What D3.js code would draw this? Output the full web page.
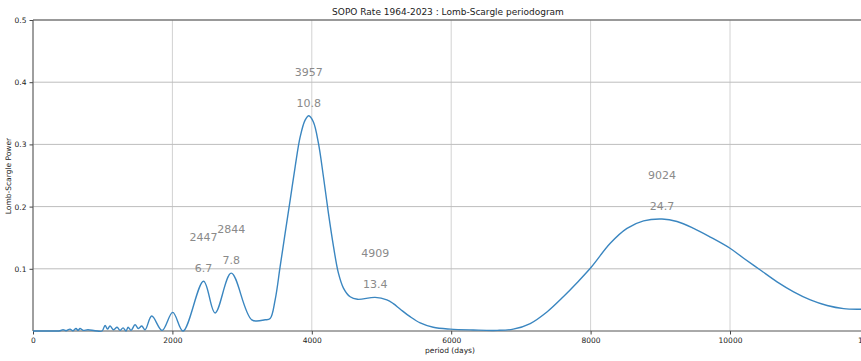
<!DOCTYPE html>
<html>
<head>
<meta charset="utf-8">
<script src="https://cdn.jsdelivr.net/npm/d3@7"></script>
<style>
  html, body { margin: 0; padding: 0; background: #fff; overflow: hidden; }
  svg { display: block; font-family: "DejaVu Sans", sans-serif; }
</style>
</head>
<body>
<svg id="chart" width="861" height="361"></svg>
<script>
// Lomb-Scargle periodogram of the SOPO rate, power against trial period (days)
const periodDays = [
  0, 172, 388, 431, 474, 531, 574, 617, 646, 675, 718, 789, 890, 990,
  1034, 1069, 1105, 1156, 1206, 1249, 1292, 1335, 1364, 1407, 1464, 1512,
  1560, 1608, 1704, 1852, 2005, 2153, 2447, 2612, 2844, 3139, 3330, 3402,
  3474, 3545, 3617, 3689, 3761, 3833, 3904, 3957, 4023, 4095, 4167, 4239,
  4311, 4382, 4454, 4550, 4655, 4909, 5077, 5170, 5270, 5410, 5555, 5742,
  5986, 6316, 6660, 6890, 7134, 7378, 7608, 7809, 8005, 8282, 8522, 8760,
  9024, 9240, 9478, 9718, 10000, 10196, 10435, 10675, 10913, 11153, 11393,
  11631, 11871, 12000
];
const power = [
  0.000, 0.000, 0.0005, 0.002, 0.0005, 0.003, 0.0005, 0.004, 0.001, 0.004, 0.001, 0.002, 0.0005, 0.000,
  0.009, 0.003, 0.008, 0.002, 0.006, 0.001, 0.005, 0.000, 0.006, 0.001, 0.010, 0.004,
  0.008, 0.002, 0.024, 0.001, 0.030, 0.000, 0.080, 0.029, 0.093, 0.018, 0.018, 0.020,
  0.050, 0.103, 0.157, 0.210, 0.264, 0.312, 0.339, 0.346, 0.336, 0.302, 0.248, 0.189,
  0.136, 0.093, 0.069, 0.055, 0.051, 0.054, 0.050, 0.044, 0.035, 0.023, 0.013, 0.006,
  0.003, 0.0016, 0.001, 0.003, 0.012, 0.031, 0.055, 0.078, 0.102, 0.141, 0.165, 0.177,
  0.180, 0.176, 0.165, 0.151, 0.133, 0.117, 0.098, 0.079, 0.063, 0.050, 0.041,
  0.036, 0.035, 0.035
];

// Annotated peaks: period in days and the same period in years
const peakPeriods = [2447, 2844, 3957, 4909, 9024];
const peakYears = ["6.7", "7.8", "10.8", "13.4", "24.7"];

const xTicks = [0, 2000, 4000, 6000, 8000, 10000, 12000];
const yTicks = [0.1, 0.2, 0.3, 0.4, 0.5];

const titleText = "SOPO Rate 1964-2023 : Lomb-Scargle periodogram";
const xLabel = "period (days)";
const yLabel = "Lomb-Scargle Power";

const svg = d3.select("#chart");
const plotLeft = 33, plotTop = 20, plotBottom = 331, plotRight = 869.4;

const x = d3.scaleLinear().domain([0, 12000]).range([plotLeft, plotRight]);
const y = d3.scaleLinear().domain([0, 0.5]).range([plotBottom, plotTop]);

// grid
svg.append("g").selectAll("line").data(xTicks).join("line")
  .attr("x1", d => x(d)).attr("x2", d => x(d))
  .attr("y1", plotTop).attr("y2", plotBottom)
  .attr("stroke", "#d2d2d2").attr("stroke-width", 1);
svg.append("g").selectAll("line").data(yTicks).join("line")
  .attr("x1", plotLeft).attr("x2", plotRight)
  .attr("y1", d => y(d)).attr("y2", d => y(d))
  .attr("stroke", "#bdbdbd").attr("stroke-width", 1);

// axes
const xAxis = d3.axisBottom(x).tickValues(xTicks).tickFormat(d3.format("d"))
  .tickSize(3.5).tickPadding(3);
const yAxis = d3.axisLeft(y).tickValues(yTicks).tickFormat(d3.format(".1f"))
  .tickSize(3.5).tickPadding(3);

const gx = svg.append("g").attr("transform", `translate(0,${plotBottom})`).call(xAxis);
const gy = svg.append("g").attr("transform", `translate(${plotLeft},0)`).call(yAxis);
[gx, gy].forEach(g => {
  g.select(".domain").remove();
  g.selectAll(".tick line").attr("stroke", "#444");
  g.selectAll(".tick text").attr("fill", "#222").style("font-size", "7.5px")
    .style("font-family", "DejaVu Sans, sans-serif");
});

// spines
svg.append("line").attr("x1", plotLeft).attr("x2", plotRight).attr("y1", plotBottom).attr("y2", plotBottom)
  .attr("stroke", "#555").attr("stroke-width", 1);
svg.append("line").attr("x1", plotLeft).attr("x2", plotRight).attr("y1", plotTop).attr("y2", plotTop)
  .attr("stroke", "#555").attr("stroke-width", 1);
svg.append("line").attr("x1", plotLeft).attr("x2", plotLeft).attr("y1", plotTop).attr("y2", plotBottom)
  .attr("stroke", "#555").attr("stroke-width", 1);

// periodogram curve
const pts = periodDays.map((p, i) => [p, power[i]]);
const line = d3.line().x(d => x(d[0])).y(d => y(d[1])).curve(d3.curveCatmullRom.alpha(0.5));
svg.append("path").datum(pts)
  .attr("d", line)
  .attr("fill", "none")
  .attr("stroke", "#3a86c0")
  .attr("stroke-width", 1.4)
  .attr("stroke-linejoin", "round");

// peak annotations
const peakPower = peakPeriods.map(p => power[periodDays.indexOf(p)]);
const ann = svg.append("g").attr("fill", "#8a8a8a")
  .style("font-size", "11px").attr("text-anchor", "middle");
peakPeriods.forEach((p, i) => {
  ann.append("text").attr("x", x(p)).attr("y", y(peakPower[i] + 0.021) + 4)
    .text(peakYears[i]);
  ann.append("text").attr("x", x(p)).attr("y", y(peakPower[i] + 0.071) + 4)
    .text(String(p));
});

// titles
svg.append("text").attr("x", 448).attr("y", 15).attr("text-anchor", "middle")
  .attr("fill", "#222").style("font-size", "9px").text(titleText);
svg.append("text").attr("x", 450).attr("y", 353).attr("text-anchor", "middle")
  .attr("fill", "#222").style("font-size", "7.5px").text(xLabel);
svg.append("text").attr("transform", `translate(11,176) rotate(-90)`)
  .attr("text-anchor", "middle").attr("fill", "#222").style("font-size", "7.5px")
  .text(yLabel);
</script>
</body>
</html>
